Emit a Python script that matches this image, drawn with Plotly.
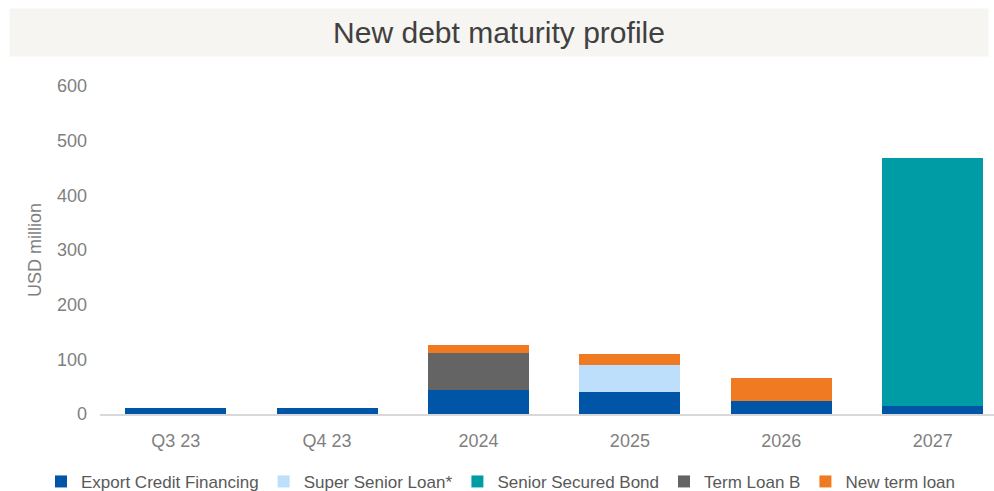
import plotly.graph_objects as go

categories = ["Q3 23", "Q4 23", "2024", "2025", "2026", "2027"]
export_credit = [11, 11, 44, 40, 24, 15]
super_senior = [0, 0, 0, 50, 0, 0]
senior_bond = [0, 0, 0, 0, 0, 453]
term_loan_b = [0, 0, 68, 0, 0, 0]
new_term_loan = [0, 0, 14, 20, 42, 0]

series = [
    ("Export Credit Financing", export_credit, "#0055A7"),
    ("Super Senior Loan*", super_senior, "#BDDFFC"),
    ("Senior Secured Bond", senior_bond, "#009CA6"),
    ("Term Loan B", term_loan_b, "#646464"),
    ("New term loan", new_term_loan, "#F07A22"),
]

fig = go.Figure()
for name, vals, col in series:
    fig.add_trace(go.Bar(
        x=categories, y=vals, name=name,
        marker=dict(color=col, line=dict(width=0)),
    ))

font = "Liberation Sans, Arial, sans-serif"
fig.update_layout(
    barmode="stack",
    bargap=0.333,
    width=994, height=491,
    margin=dict(l=100, r=0, t=86, b=77, autoexpand=False),
    paper_bgcolor="white",
    plot_bgcolor="white",
    font=dict(family=font, size=18, color="#7F7F7F"),
    showlegend=True,
    legend=dict(
        orientation="h",
        x=-0.066, xanchor="left",
        y=-0.207, yanchor="middle",
        font=dict(size=17, color="#595959"),
        itemwidth=30,
        traceorder="normal",
        bgcolor="rgba(0,0,0,0)",
    ),
    xaxis=dict(
        type="category",
        range=[-0.5, 5.405],
        showline=True, linecolor="#D9D9D9", linewidth=1.5,
        showgrid=False, zeroline=False, ticks="",
        ticklabelstandoff=10,
        tickfont=dict(size=18, color="#7F7F7F"),
    ),
    yaxis=dict(
        range=[0, 600], dtick=100,
        showgrid=False, zeroline=False, showline=False, ticks="",
        ticklabelstandoff=12,
        tickfont=dict(size=18, color="#7F7F7F"),
        title=dict(text="USD million", standoff=10,
                   font=dict(size=18, color="#7F7F7F")),
    ),
    annotations=[dict(
        text="New debt maturity profile",
        xref="paper", yref="paper",
        x=(499 - 100) / 894, y=(414 - 33) / 328,
        xanchor="center", yanchor="middle",
        showarrow=False,
        width=976, height=45,
        bgcolor="#F6F5F1",
        font=dict(size=30, color="#404040", family=font),
    )],
)

fig.write_html("out.html")
